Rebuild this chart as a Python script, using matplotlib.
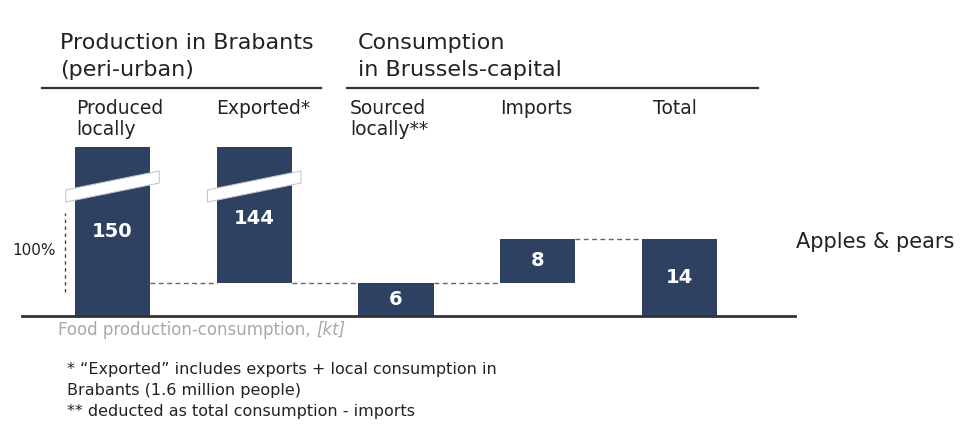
import numpy as np
import matplotlib
matplotlib.use("Agg")
import matplotlib.pyplot as plt
from matplotlib.patches import Polygon
import matplotlib.transforms as mtransforms

# ---- data ----
categories = ["Produced\nlocally", "Exported*", "Sourced\nlocally**", "Imports", "Total"]
values = [150, 144, 6, 8, 14]          # kt
value_labels = ["150", "144", "6", "8", "14"]
group_titles = ["Production in Brabants\n(peri-urban)", "Consumption\nin Brussels-capital"]
row_label = "Apples & pears"
axis_note = "Food production-consumption, "
axis_unit = "[kt]"
footnotes = ["* \u201cExported\u201d includes exports + local consumption in",
             "Brabants (1.6 million people)",
             "** deducted as total consumption - imports"]

# waterfall bottoms derived from the data
bottoms = [0, values[0] - values[1], 0, values[2], 0]

W, H = 963, 440
plt.rcParams['font.family'] = ['DejaVu Sans']
fig = plt.figure(figsize=(W / 100, H / 100), dpi=100)
fig.patch.set_facecolor("white")

BAR = "#2f4163"
TXT = "#222222"

def fx(px):
    return px / W

def fy(py):
    return 1 - py / H

# axes geometry (pixels)
ax_left, ax_right, ax_bottom, ax_top = 22, 795, 316, 100
ax = fig.add_axes([fx(ax_left), fy(ax_bottom), (ax_right - ax_left) / W, (ax_bottom - ax_top) / H])

# broken scale: linear up to b, compressed above
b, k = 22.0, 0.068
def fwd(y):
    y = np.asarray(y, dtype=float)
    return np.where(y <= b, y, b + (y - b) * k)
def inv(t):
    t = np.asarray(t, dtype=float)
    return np.where(t <= b, t, b + (t - b) / k)
ax.set_yscale("function", functions=(fwd, inv))

px_per_unit = 5.5
t_top = (ax_bottom - ax_top) / px_per_unit
ax.set_ylim(0, float(inv(t_top)))
spacing = 141.75
c0 = 112.5
ax.set_xlim((ax_left - c0) / spacing, (ax_right - c0) / spacing)

x = np.arange(len(values))
bw = 0.53
ax.bar(x, values, bottom=bottoms, width=bw, color=BAR, zorder=2)

# connectors
conn = dict(color="#666666", lw=1.0, ls=(0, (3.5, 2.5)), zorder=1)
ax.hlines(bottoms[1], 0 + bw / 2, 1 - bw / 2, **conn)
ax.hlines(bottoms[1], 1 + bw / 2, 2 - bw / 2, **conn)
ax.hlines(values[2], 2 + bw / 2, 3 - bw / 2, **conn)
ax.hlines(values[2] + values[3], 3 + bw / 2, 4 - bw / 2, **conn)

# 100% marker
ax.vlines(-0.335, 4.4, 18.7, color="#444444", lw=1.0, ls=(0, (2.5, 2.5)))
fig.text(fx(34), fy(250), "100%", fontsize=11, color=TXT, ha="center", va="center")

# break stripes on the two truncated bars
blend = mtransforms.blended_transform_factory(ax.transData, ax.transAxes)
hh = ax_bottom - ax_top
for i in (0, 1):
    xl, xr = i - 0.33, i + 0.33
    yl, yr, th = 120, 139, 12
    poly = Polygon([(xl, (yl - th / 2) / hh), (xr, (yr - th / 2) / hh),
                    (xr, (yr + th / 2) / hh), (xl, (yl + th / 2) / hh)],
                   closed=True, transform=blend, facecolor="white",
                   edgecolor="#c8c8c8", lw=0.8, zorder=3)
    ax.add_patch(poly)

# value labels
label_y = [15.3, 17.8, values[2] / 2, bottoms[3] + values[3] / 2, values[4] / 2]
for xi, yv, lab in zip(x, label_y, value_labels):
    ax.text(xi, yv, lab, color="white", fontsize=14, fontweight="bold",
            ha="center", va="center", zorder=4)

for s in ["top", "right", "left"]:
    ax.spines[s].set_visible(False)
ax.spines["bottom"].set_color("#333333")
ax.spines["bottom"].set_linewidth(2)
ax.set_xticks([])
ax.set_yticks([])
ax.minorticks_off()
ax.patch.set_alpha(0)

# group titles and rules
for gx, title in zip([60, 358], group_titles):
    for j, line in enumerate(title.split("\n")):
        fig.text(fx(gx), fy(43 + 27 * j), line, fontsize=16, color=TXT,
                 ha="left", va="center")
fig.add_artist(plt.Line2D([fx(42), fx(321)], [fy(88), fy(88)], color="#333333", lw=1.6))
fig.add_artist(plt.Line2D([fx(347), fx(758)], [fy(88), fy(88)], color="#333333", lw=1.6))

# category headers
cat_x = [76, 216, 350, 500, 653]
for cx, lab in zip(cat_x, categories):
    for j, line in enumerate(lab.split("\n")):
        fig.text(fx(cx), fy(108 + 21 * j), line, fontsize=13.5, color=TXT,
                 ha="left", va="center")

fig.text(fx(796), fy(242), row_label, fontsize=15, color=TXT, ha="left", va="center")

# axis note
t = fig.text(fx(58), fy(330), axis_note, fontsize=12, color="#a8a8a8", ha="left", va="center")
fig.canvas.draw()
bb = t.get_window_extent()
fig.text(bb.x1 / W, fy(330), axis_unit, fontsize=12, color="#a8a8a8", ha="left", va="center",
         style="italic")

for yy, line in zip([369, 390, 411], footnotes):
    fig.text(fx(67), fy(yy), line, fontsize=11.5, color=TXT, ha="left", va="center")

fig.savefig("out.png", dpi=100, facecolor="white")
